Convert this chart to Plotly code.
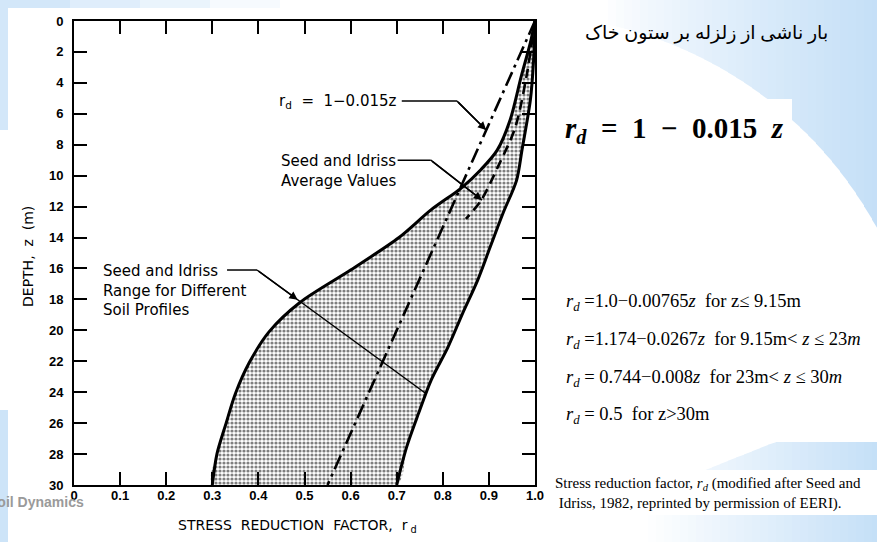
import math
import plotly.graph_objects as go

# ---- data: stress reduction factor r_d versus depth z (m) ----
# Seed & Idriss range for different soil profiles (lower / upper bounds)
z_lower = [0, 1.4, 3.6, 6.4, 8.35, 9.6, 10.8, 12.2, 14.0, 16.1, 18.2, 20.1, 22.1, 24.1, 26.0, 28.0, 30.0]
rd_lower = [1.0, 0.99, 0.97, 0.946, 0.918, 0.883, 0.84, 0.775, 0.705, 0.60, 0.49, 0.423, 0.38, 0.35, 0.33, 0.31, 0.30]
z_upper = [0, 2.5, 5.1, 8.3, 10.3, 12.4, 14.6, 16.8, 18.9, 21.1, 23.2, 25.4, 27.6, 30.0]
rd_upper = [1.0, 0.997, 0.99, 0.972, 0.96, 0.931, 0.903, 0.875, 0.843, 0.811, 0.775, 0.747, 0.721, 0.70]
# Seed & Idriss average values
z_avg = [0, 3.5, 6.9, 9.4, 11.6, 12.8]
rd_avg = [1.0, 0.982, 0.957, 0.92, 0.883, 0.85]
# simplified linear relation r_d = 1 - 0.015 z
z_lin = [0, 30]
rd_lin = [1 - 0.015 * z for z in z_lin]

# axis ticks
y_ticks = list(range(0, 31, 2))
x_ticks = [i / 10 for i in range(11)]
x_ticktext = ["0", "0.1", "0.2", "0.3", "0.4", "0.5", "0.6", "0.7", "0.8", "0.9", "1.0"]

W, H = 877, 542
L, R, T, B = 74, 342, 21, 57
PW, PH = W - L - R, H - T - B


def px(x):
    return (x - L) / PW


def py(y):
    return (H - B - y) / PH


SANS = "Liberation Sans, Arial, sans-serif"
LABEL_SANS = "DejaVu Sans, Liberation Sans, sans-serif"
SERIF = "Liberation Serif, Times New Roman, DejaVu Sans, serif"
SMOOTH = 0.85

fig = go.Figure()

# stippled band between the bounds
fig.add_trace(go.Scatter(
    x=rd_lower + rd_upper[::-1], y=z_lower + z_upper[::-1],
    mode="lines", fill="toself", line=dict(width=0, shape="spline", smoothing=SMOOTH),
    fillcolor="white",
    fillpattern=dict(shape=".", size=4, solidity=0.5, fgcolor="black", bgcolor="white"),
    hoverinfo="skip", showlegend=False))

for xs, ys in ((rd_lower, z_lower), (rd_upper, z_upper)):
    fig.add_trace(go.Scatter(x=xs, y=ys, mode="lines",
                             line=dict(color="black", width=3, shape="spline", smoothing=SMOOTH),
                             showlegend=False, hoverinfo="skip"))

fig.add_trace(go.Scatter(x=rd_avg, y=z_avg, mode="lines",
                         line=dict(color="black", width=2.6, dash="10px,6px", shape="spline", smoothing=SMOOTH),
                         showlegend=False, hoverinfo="skip"))
fig.add_trace(go.Scatter(x=rd_lin, y=z_lin, mode="lines",
                         line=dict(color="black", width=2.6, dash="15px,5px,3px,5px"),
                         showlegend=False, hoverinfo="skip"))

axis_common = dict(showline=True, linecolor="black", linewidth=2, mirror="ticks",
                   ticks="inside", ticklen=13, tickwidth=2, tickcolor="black",
                   showgrid=False, zeroline=False,
                   tickfont=dict(family=SANS, size=13, color="black", weight="bold"))
fig.update_xaxes(range=[0, 1], tickvals=x_ticks, ticktext=x_ticktext,
                 ticklabelstandoff=-3, **axis_common)
fig.update_yaxes(range=[30, 0], tickvals=y_ticks, ticklabelstandoff=6, **axis_common)

annotations = []
shapes = []

# ---- callout labels and leader lines ----
lab_font = dict(family=LABEL_SANS, size=15, color="black")
annotations.append(dict(x=0.705, y=5.2, xref="x", yref="y", xanchor="right", yanchor="middle",
                        text="r<sub>d</sub>  =  1−0.015z", showarrow=False, font=lab_font))
annotations.append(dict(x=0.445, y=9.0, xref="x", yref="y", xanchor="left", yanchor="top",
                        align="left", text="Seed and Idriss<br>Average Values",
                        showarrow=False, font=lab_font, yshift=10))
annotations.append(dict(x=0.058, y=16.1, xref="x", yref="y", xanchor="left", yanchor="top",
                        align="left", text="Seed and Idriss<br>Range for Different<br>Soil Profiles",
                        showarrow=False, font=lab_font, yshift=10))

leaders = [
    [(0.711, 5.18), (0.831, 5.18), (0.894, 7.05)],
    [(0.702, 9.0), (0.774, 9.0), (0.885, 11.58)],
    [(0.332, 16.1), (0.397, 16.1), (0.764, 24.1)],
]
for pts in leaders:
    for (x0, y0), (x1, y1) in zip(pts[:-1], pts[1:]):
        shapes.append(dict(type="line", xref="x", yref="y", x0=x0, y0=y0, x1=x1, y1=y1,
                           line=dict(color="black", width=1.5)))
arrows = [((0.831, 5.18), (0.894, 7.05)), ((0.774, 9.0), (0.885, 11.58)),
          ((0.397, 16.1), (0.485, 18.02))]
for (ax, ay), (x, y) in arrows:
    annotations.append(dict(x=x, y=y, ax=ax, ay=ay, xref="x", yref="y", axref="x", ayref="y",
                            text="", showarrow=True, arrowhead=2, arrowsize=1.1,
                            arrowwidth=1.5, arrowcolor="black"))


def note(xp, yp, text, font, xanchor="center", **kw):
    annotations.append(dict(x=px(xp), y=py(yp), xref="paper", yref="paper",
                            xanchor=xanchor, yanchor="middle", text=text,
                            showarrow=False, font=font, **kw))


# axis titles
note(28, 257, "DEPTH,  z  (m)", dict(family=LABEL_SANS, size=14, color="black"), textangle=-90)
note(297, 526, "STRESS  REDUCTION  FACTOR,  r<sub> d</sub>", dict(family=LABEL_SANS, size=14, color="black"))


# ---- slide decoration ----
def lerp_color(c0, c1, t):
    t = max(0.0, min(1.0, t))
    return "rgb(%d,%d,%d)" % tuple(round(a + (b - a) * t) for a, b in zip(c0, c1))


WHITE = (255, 255, 255)
BLUE = (196, 223, 247)


def arc_y(x):
    cx, cy, r = 520, 420, 405
    d = x - cx
    if abs(d) >= r:
        return H
    return cy - math.sqrt(r * r - d * d)


def rect(x0, y0, x1, y1, color):
    shapes.append(dict(type="rect", xref="paper", yref="paper", layer="below",
                       x0=px(x0), x1=px(x1), y0=py(y0), y1=py(y1),
                       fillcolor=color, line=dict(width=0)))


def quad(pts, color):
    path = "M " + " L ".join("%f,%f" % (px(a), py(b)) for a, b in pts) + " Z"
    shapes.append(dict(type="path", xref="paper", yref="paper", layer="below", path=path,
                       fillcolor=color, line=dict(width=0)))


# top-right gradient above the arc
step = 8
x = 592
while x < W:
    x1 = min(x + step, W)
    t = max(0.0, (x - 600) / (W - 600))
    quad([(x, 0), (x1 + 0.6, 0), (x1 + 0.6, arc_y(x1)), (x, arc_y(x))],
         lerp_color(WHITE, BLUE, t ** 0.8))
    x = x1
rect(555, 99, 792, 165, "white")

# bottom-right gradient band and caption box
x = 600
while x < W:
    x1 = min(x + step, W)
    t = max(0.0, (x - 640) / (W - 640))
    top0 = 442 if x >= 775 else 442 + (775 - x) * 0.4
    top1 = 442 if x1 >= 775 else 442 + (775 - x1) * 0.4
    quad([(x, top0), (x1 + 0.6, top1), (x1 + 0.6, H), (x, H)], lerp_color(WHITE, BLUE, t))
    x = x1
rect(550, 470, W, 515, "white")

# top-left and left strips
for i, (a, b) in enumerate([(0, 70), (70, 140), (140, 210), (210, 280)]):
    rect(a, 0, b, 8, lerp_color(WHITE, BLUE, 0.75 - i * 0.2))
rect(0, 0, 8, 130, lerp_color(WHITE, BLUE, 0.75))
rect(0, 410, 8, H, lerp_color(WHITE, BLUE, 0.85))

note(86, 502, "<b>Soil Dynamics</b>", dict(family=SANS, size=14, color="#9a9a9a"), xanchor="right")

# ---- right-hand text ----
note(830, 33, "بار ناشی از زلزله بر ستون خاک", dict(family=SERIF, size=19, color="black"),
     xanchor="right")
nb = "\u00a0"
note(563, 127, f"<b><i>r</i><sub><i>d</i></sub>{nb*2}={nb*2}1{nb*2}−{nb*2}0.015{nb*2}<i>z</i></b>",
     dict(family=SERIF, size=29, color="black"), xanchor="left", yshift=-3)

rd_i = "<i>r</i><sub><i>d</i></sub>"
eq_lines = [
    (300, f"{rd_i} =1.0−0.00765<i>z</i>{nb*2}for z≤ 9.15m"),
    (338, f"{rd_i} =1.174−0.0267<i>z</i>{nb*2}for 9.15m&lt; <i>z</i> ≤ 23<i>m</i>"),
    (376, f"{rd_i} = 0.744−0.008<i>z</i>{nb*2}for 23m&lt; <i>z</i> ≤ 30<i>m</i>"),
    (413, f"{rd_i} = 0.5{nb}{nb}for z&gt;30m"),
]
for yy, txt in eq_lines:
    note(564, yy, txt, dict(family=SERIF, size=18.5, color="black"), xanchor="left", yshift=-2)

note(553, 492, "Stress reduction factor, <i>r<sub>d</sub></i> (modified after Seed and<br>"
     + nb + "Idriss, 1982, reprinted by permission of EERI).",
     dict(family=SERIF, size=15, color="black"), xanchor="left", align="left", yshift=-1)

fig.update_layout(
    width=W, height=H, margin=dict(l=L, r=R, t=T, b=B, pad=0),
    paper_bgcolor="white", plot_bgcolor="white",
    shapes=shapes, annotations=annotations, showlegend=False,
)

fig.write_html("out.html", post_script="document.body.style.margin='0';")
